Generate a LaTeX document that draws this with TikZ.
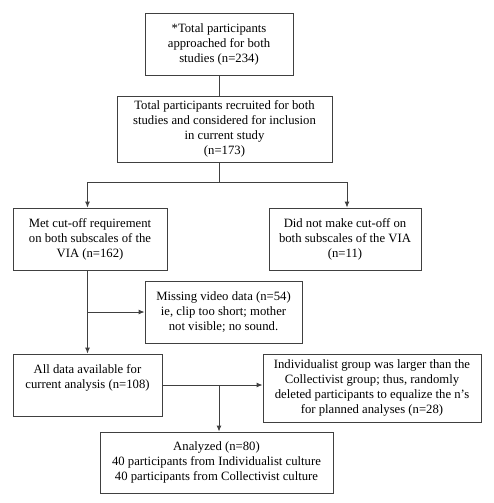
\documentclass[tikz,border=0pt]{standalone}
\usepackage{fontspec}
\setmainfont{Liberation Serif}
\usepackage{tikz}
\usetikzlibrary{arrows.meta}

\begin{document}
\begin{tikzpicture}[x=1pt,y=-1pt,
    box/.style={draw=black!75,line width=0.9pt,align=center,font=\fontsize{12.7}{15}\selectfont,inner sep=2pt},
    link/.style={draw=black!75,line width=0.9pt},
    >={Latex[length=6pt,width=5pt]}]
          \useasboundingbox (0,0) rectangle (494,503);
          \node[box,minimum width=148pt,minimum height=62pt] (appr) at (219,44) {*Total participants\\approached for both\\studies (n=234)};
          \node[box,minimum width=215pt,minimum height=66pt] (recr) at (224.5,129) {Total participants recruited for both\\studies and considered for inclusion\\in current study\\(n=173)};
          \node[box,minimum width=154pt,minimum height=62pt] (met) at (90,239) {Met cut-off requirement\\on both subscales of the\\VIA (n=162)};
          \node[box,minimum width=152pt,minimum height=62pt] (notmet) at (345,239) {Did not make cut-off on\\both subscales of the VIA\\(n=11)};
          \node[box,minimum width=157pt,minimum height=62pt] (miss) at (223.5,312) {Missing video data (n=54)\\ie, clip too short; mother\\not visible; no sound.};
          \node[box,minimum width=149pt,minimum height=62pt] (avail) at (87.5,385) {All data available for\\current analysis (n=108)\\[2pt]~};
          \node[box,minimum width=218pt,minimum height=68pt] (indiv) at (372,388) {Individualist group was larger than the\\Collectivist group; thus, randomly\\deleted participants to equalize the n’s\\for planned analyses (n=28)};
          \node[box,minimum width=233pt,minimum height=61pt] (anal) at (216.5,462.5) {Analyzed (n=80)\\40 participants from Individualist culture\\40 participants from Collectivist culture};
          \coordinate (split) at (219,182);
          \coordinate (fork) at (219,385);
          \draw[link] (appr.south) -- (appr.south |- recr.north);
          \draw[link] (split |- recr.south) -- (split);
          \draw[link,->] (split) -| (avail.north |- met.north);
          \draw[link,->] (split) -| ([xshift=2pt]notmet.north);
          \draw[link,->] (avail.north |- met.south) -- (avail.north);
          \draw[link,->] (avail.north |- miss.west) -- (miss.west);
          \draw[link,->] (avail.east) -- (avail.east -| indiv.west);
          \draw[link,->] (fork) -- (fork |- anal.north);
        \end{tikzpicture}
\end{document}
